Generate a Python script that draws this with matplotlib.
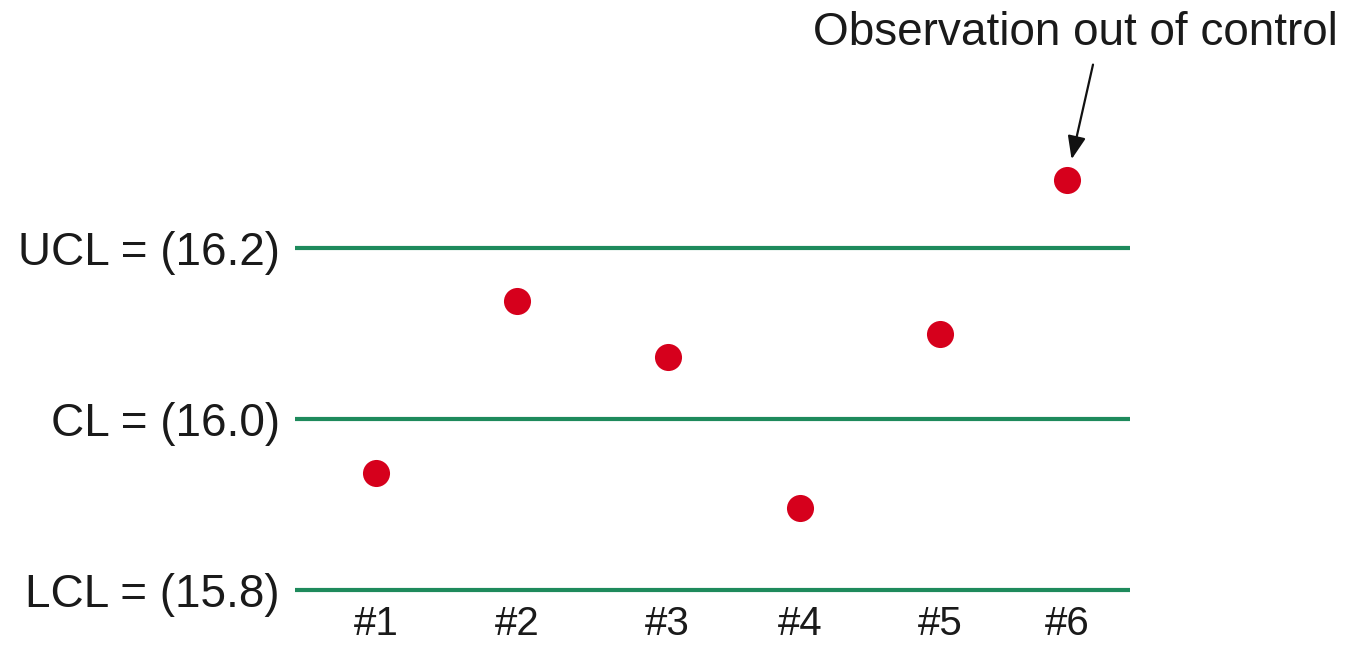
import matplotlib
matplotlib.use("Agg")
import matplotlib.pyplot as plt

# ---- data ----
samples = ["#1", "#2", "#3", "#4", "#5", "#6"]
sample_x = [1.0, 2.02, 3.11, 4.07, 5.08, 6.0]
values = [15.937, 16.138, 16.073, 15.896, 16.099, 16.280]
limit_values = [15.8, 16.0, 16.2]
limit_labels = ["LCL = (15.8)", "CL = (16.0)", "UCL = (16.2)"]
out_of_control_label = "Observation out of control"

plt.rcParams['font.family'] = ['Liberation Sans', 'DejaVu Sans']

W, H = 1345, 647
fig = plt.figure(figsize=(W / 100, H / 100), dpi=100)
left_px, right_px = 295, 1130
bottom_px = 590
ax = fig.add_axes([left_px / W, (H - bottom_px) / H, (right_px - left_px) / W, 555.75 / H])

ax.set_xlim(1 - 81 / 138.2, 6 + 63 / 138.2)
ax.set_ylim(15.8, 16.45)

green = '#1e8a5c'
for v in limit_values:
    ax.axhline(v, color=green, lw=3.0, clip_on=False, solid_capstyle='butt')

ax.scatter(sample_x, values, s=380, color='#d6001c', zorder=3, clip_on=False, linewidths=0)

# annotation
ax.annotate('', xy=(sample_x[-1], values[-1]), xycoords='data',
            xytext=(26, 115), textcoords='offset pixels',
            arrowprops=dict(arrowstyle='-|>,head_length=1.4,head_width=0.55',
                            color='#111111', lw=1.6, shrinkA=0, shrinkB=15))
ax.annotate(out_of_control_label, xy=(sample_x[-1], values[-1]), xycoords='data',
            xytext=(8, 147), textcoords='offset pixels',
            ha='center', va='center', fontsize=33, color='#1a1a1a')

ax.set_xticks(sample_x, samples)
ax.set_yticks(limit_values, limit_labels)
ax.tick_params(axis='x', length=0, pad=11, labelsize=29, labelcolor='#1a1a1a')
ax.tick_params(axis='y', length=0, pad=11, labelsize=33, labelcolor='#1a1a1a')
for s in ax.spines.values():
    s.set_visible(False)
ax.patch.set_alpha(0)

fig.savefig('out.png', dpi=100)
